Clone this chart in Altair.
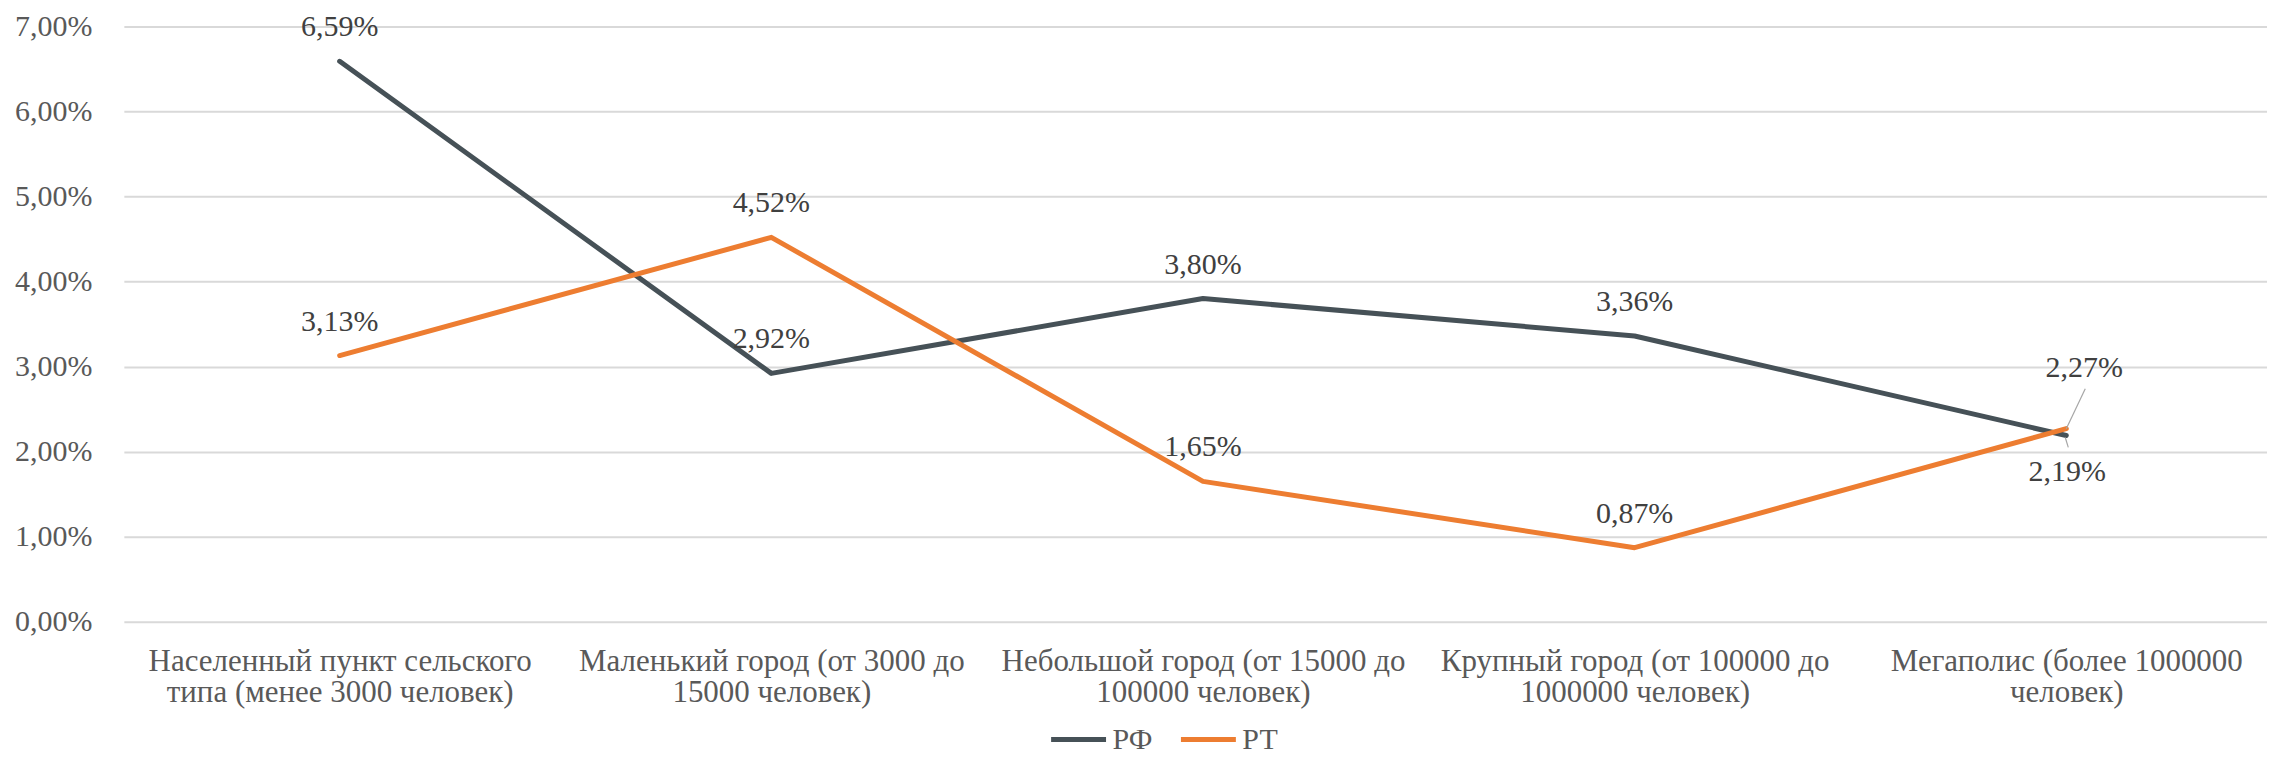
import altair as alt
import pandas as pd
import json

categories = [
    "Населенный пункт сельского|типа (менее 3000 человек)",
    "Маленький город (от 3000 до|15000 человек)",
    "Небольшой город (от 15000 до|100000 человек)",
    "Крупный город (от 100000 до|1000000 человек)",
    "Мегаполис (более 1000000|человек)",
]
series_names = ["РФ", "РТ"]
rf_values = [6.59, 2.92, 3.80, 3.36, 2.19]
rt_values = [3.13, 4.52, 1.65, 0.87, 2.27]
y_ticks = [0, 1, 2, 3, 4, 5, 6, 7]
colors = ["#465157", "#ED7D31"]

rows = []
for s, vals in zip(series_names, [rf_values, rt_values]):
    for i, (c, v) in enumerate(zip(categories, vals)):
        rows.append({"category": c, "idx": i, "series": s, "value": v})
df = pd.DataFrame(rows)

FONT = "Liberation Serif"
last_idx = len(categories) - 1
cat_expr = json.dumps(categories, ensure_ascii=False)

x_enc = alt.X(
    "idx:Q",
    scale=alt.Scale(domain=[-0.5, 4.465], nice=False, zero=False),
    axis=alt.Axis(
        title=None,
        values=list(range(len(categories))),
        labelExpr=f"split({cat_expr}[datum.value], '|')",
        labelAngle=0,
        labelFont=FONT,
        labelFontSize=31,
        labelColor="#595959",
        labelLineHeight=31,
        labelPadding=25,
        labelBaseline="top",
        labelLimit=0,
        labelOverlap=False,
        ticks=False,
        domain=False,
        grid=False,
    ),
)
y_enc = alt.Y(
    "value:Q",
    scale=alt.Scale(domain=[0, 7], nice=False, zero=True),
    axis=alt.Axis(
        title=None,
        values=y_ticks,
        labelExpr="replace(format(datum.value, '.2f'), '.', ',') + '%'",
        labelFont=FONT,
        labelFontSize=30,
        labelColor="#595959",
        labelPadding=32,
        ticks=False,
        domain=False,
        grid=True,
        gridColor="#D9D9D9",
        gridWidth=2,
    ),
)

base = alt.Chart(df).encode(x=x_enc, y=y_enc)

lines = base.mark_line(strokeWidth=5, strokeCap="round", strokeJoin="round").encode(
    color=alt.Color(
        "series:N",
        scale=alt.Scale(domain=series_names, range=colors),
        legend=alt.Legend(
            title=None,
            orient="none",
            legendX=926,
            legendY=684,
            direction="horizontal",
            symbolType="stroke",
            symbolSize=3025,
            symbolStrokeWidth=5,
            labelFont=FONT,
            labelFontSize=30,
            labelColor="#595959",
            labelOffset=4,
            columnPadding=18,
            padding=0,
        ),
    ),
    detail="series:N",
)

label_base = base.transform_calculate(
    label="replace(format(datum.value, '.2f'), '.', ',') + '%'"
)
text_style = dict(font=FONT, fontSize=30, color="#404040", baseline="middle", align="center")

labels_main = label_base.transform_filter(
    alt.datum.idx != last_idx
).mark_text(dy=-34, **text_style).encode(text="label:N")

labels_rt_last = label_base.transform_filter(
    (alt.datum.idx == last_idx) & (alt.datum.series == "РТ")
).mark_text(dx=18, dy=-61, **text_style).encode(text="label:N")

labels_rf_last = label_base.transform_filter(
    (alt.datum.idx == last_idx) & (alt.datum.series == "РФ")
).mark_text(dx=1, dy=37, **text_style).encode(text="label:N")

leader_rt = base.transform_filter(
    (alt.datum.idx == last_idx) & (alt.datum.series == "РТ")
).mark_rule(color="#A6A6A6", strokeWidth=1.2, xOffset=19, yOffset=-40, x2Offset=0, y2Offset=0).encode(
    x2="idx:Q", y2="value:Q"
)
leader_rf = base.transform_filter(
    (alt.datum.idx == last_idx) & (alt.datum.series == "РФ")
).mark_rule(color="#A6A6A6", strokeWidth=1.2, xOffset=-1, yOffset=2, x2Offset=2, y2Offset=12).encode(
    x2="idx:Q", y2="value:Q"
)

chart = alt.layer(
    lines, leader_rt, leader_rf, labels_main, labels_rt_last, labels_rf_last
).properties(
    width=2146,
    height=596,
    background="white",
    autosize=alt.AutoSizeParams(type="none"),
    padding={"left": 116, "top": 18, "right": 0, "bottom": 134},
).configure_view(stroke=None)

chart.save("out.html", embed_options={"renderer": "svg", "actions": False})
